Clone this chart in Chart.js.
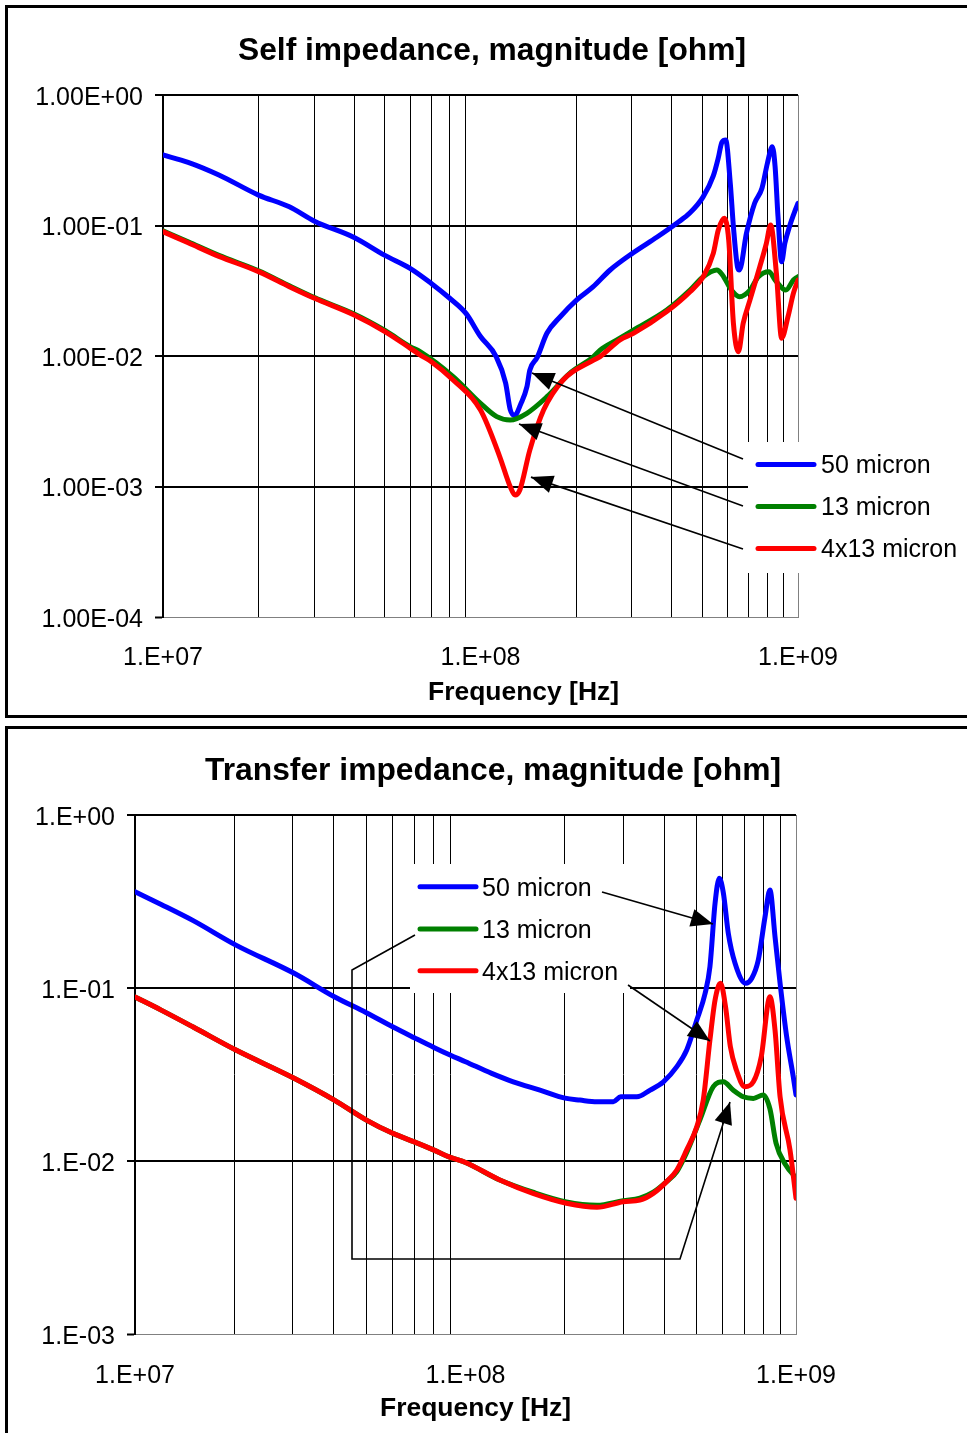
<!DOCTYPE html>
<html><head><meta charset="utf-8">
<script src="https://cdn.jsdelivr.net/npm/chart.js@4.4.1/dist/chart.umd.min.js"></script>
<style>
html,body{margin:0;padding:0;background:#fff;width:967px;height:1433px;overflow:hidden}
canvas{position:absolute;left:0}
#c1{top:0}
#c2{top:720px}
</style></head><body>
<canvas id="c1" width="967" height="720"></canvas>
<canvas id="c2" width="967" height="713"></canvas>
<script>
// ---------- DATA ----------
const seriesLabels = ['50 micron', '13 micron', '4x13 micron'];
const seriesColors = ['#0000ff', '#008000', '#ff0000'];

const xTickValues = [1e7,2e7,3e7,4e7,5e7,6e7,7e7,8e7,9e7,1e8,2e8,3e8,4e8,5e8,6e8,7e8,8e8,9e8,1e9];
const xDecades = [1e7, 1e8, 1e9];
const xDecadeLabels = ['1.E+07', '1.E+08', '1.E+09'];

const selfYTicks = [1, 0.1, 0.01, 0.001, 0.0001];
const selfYLabels = ['1.00E+00', '1.00E-01', '1.00E-02', '1.00E-03', '1.00E-04'];
const transYTicks = [1, 0.1, 0.01, 0.001];
const transYLabels = ['1.E+00', '1.E-01', '1.E-02', '1.E-03'];

// Self impedance (frequency in MHz, magnitude in ohm)
const selfFreq50 = [10,12,15,20,25,30,40,50,60,70,80,90,100,112,120,124,128,134,140,143,151,162,178,201,226,256,302,360,416,457,502,541,561,576,592,612,626,645,654,688,730,770,801,830,847,865,888,909,940,981,1000];
const self50 = [0.347,0.305,0.244,0.171,0.139,0.108,0.081,0.059,0.047,0.036,0.0277,0.0212,0.0141,0.0099,0.0062,0.0039,0.0035,0.0043,0.0058,0.0078,0.0098,0.0150,0.0199,0.0269,0.0338,0.0456,0.0616,0.0816,0.1045,0.125,0.165,0.24,0.33,0.435,0.452,0.21,0.098,0.048,0.0456,0.087,0.148,0.193,0.30,0.402,0.282,0.117,0.0528,0.073,0.098,0.1315,0.148];

const selfFreq13 = [10,12,15,20,25,30,40,50,60,64.5,82,100,112.5,124,140,162,191,227,238,269,303,386,457,503,555,578,617,654,706,750,810,847,916,967,1000];
const self13 = [0.091,0.075,0.059,0.045,0.0345,0.028,0.021,0.0157,0.0118,0.0108,0.00695,0.00434,0.00343,0.00323,0.00364,0.00488,0.00736,0.00988,0.0111,0.0133,0.0158,0.0225,0.032,0.0405,0.0456,0.0418,0.032,0.0285,0.032,0.0405,0.0443,0.0382,0.032,0.0382,0.0405];

const selfFreq4x13 = [10,12,15,20,25,30,40,50,60,64.5,70,82,100,115,124,128.5,133,143,158,182,227,238,275,303,386,457,503,541,561,586,605,626,649,672,706,758,795,820,855,888,930,967,1000];
const self4x13 = [0.0897,0.0738,0.058,0.0443,0.034,0.0277,0.0206,0.0154,0.0115,0.0102,0.00905,0.00655,0.00385,0.00169,0.0010,0.00086,0.00094,0.0019,0.00385,0.00655,0.0093,0.0099,0.0133,0.0149,0.0219,0.0311,0.0405,0.0612,0.0924,0.1136,0.0774,0.0178,0.0108,0.0178,0.0269,0.0483,0.073,0.101,0.043,0.0137,0.020,0.0302,0.0382];

// Transfer impedance (frequency in MHz, magnitude in ohm)
const transFreq50 = [10,12,15,20.2,30.3,40.1,50.1,60.2,70,80.5,89.8,100,120,139.5,168,200,222,250,280,295,330,362,397,436,467,501,531,549,569,586,603,624,654,704,735,769,806,834,864,895,937,981,1000];
const trans50 = [0.36,0.304,0.245,0.177,0.1216,0.089,0.072,0.0597,0.0516,0.0452,0.041,0.0375,0.0321,0.0287,0.0257,0.0231,0.0225,0.022,0.022,0.0235,0.0235,0.0257,0.0287,0.0351,0.0438,0.0653,0.0932,0.1328,0.309,0.431,0.353,0.207,0.139,0.1065,0.1138,0.145,0.258,0.3685,0.198,0.1065,0.0523,0.0307,0.0241];

const transFreq13 = [10,12,15,20.2,30.3,40.1,50,60,70,80,90,100,127,160,202,250,300,337,370,406,436,467,512,562,603,645,692,743,796,834,870,930,1000];
const trans13 = [0.0887,0.0745,0.0595,0.0438,0.0301,0.0225,0.0173,0.0145,0.0129,0.0116,0.0105,0.0098,0.00777,0.0066,0.0058,0.00555,0.0059,0.0061,0.0066,0.0076,0.0087,0.0112,0.0173,0.0269,0.0287,0.0257,0.0235,0.023,0.0241,0.020,0.0127,0.0095,0.0080];

const transFreq4x13 = [10,12,15,20.2,30.3,40.1,50,60,70,80,90,100,127,160,202,250,300,337,370,406,436,467,501,524,549,569,591,612,633,660,700,743,785,834,864,895,959,1000];
const trans4x13 = [0.0887,0.0745,0.0595,0.0438,0.0301,0.0225,0.0173,0.0145,0.0129,0.0116,0.0105,0.0098,0.00777,0.0065,0.0057,0.0054,0.00582,0.00595,0.0065,0.0076,0.00887,0.0116,0.0158,0.0225,0.05,0.0853,0.1065,0.078,0.0458,0.0336,0.0269,0.0287,0.0401,0.089,0.0572,0.0235,0.0116,0.00609];

// ---------- helpers ----------
const FONT = '"Liberation Sans", Arial, sans-serif';
function pts(freqMHz, vals) { return freqMHz.map((f, i) => ({x: f * 1e6, y: vals[i]})); }
function ds(i, freq, vals, order) {
  return {label: seriesLabels[i], data: pts(freq, vals), borderColor: seriesColors[i],
    backgroundColor: seriesColors[i], borderWidth: 5, pointRadius: 0,
    cubicInterpolationMode: 'monotone',
    borderCapStyle: 'round', borderJoinStyle: 'round', fill: false, order: order};
}
function fitText(ctx, text, cx, cy, font, targetW) {
  ctx.save();
  ctx.font = font;
  const w = ctx.measureText(text).width;
  ctx.translate(cx, cy);
  ctx.scale(targetW / w, 1);
  ctx.textAlign = 'center';
  ctx.textBaseline = 'middle';
  ctx.fillStyle = '#000';
  ctx.fillText(text, 0, 0);
  ctx.restore();
}
function arrowPath(ctx, p) {
  ctx.save();
  ctx.strokeStyle = '#000';
  ctx.fillStyle = '#000';
  ctx.lineWidth = 1.6;
  ctx.beginPath();
  ctx.moveTo(p[0][0], p[0][1]);
  for (let i = 1; i < p.length; i++) ctx.lineTo(p[i][0], p[i][1]);
  ctx.stroke();
  const [tx, ty] = p[p.length - 1], [sx, sy] = p[p.length - 2];
  const a = Math.atan2(ty - sy, tx - sx), L = 22, H = 9;
  ctx.beginPath();
  ctx.moveTo(tx, ty);
  ctx.lineTo(tx - L * Math.cos(a) + H * Math.sin(a), ty - L * Math.sin(a) - H * Math.cos(a));
  ctx.lineTo(tx - L * Math.cos(a) - H * Math.sin(a), ty - L * Math.sin(a) + H * Math.cos(a));
  ctx.closePath();
  ctx.fill();
  ctx.restore();
}

function makeChart(canvasId, datasets, yTicks, yLabels, g, deco) {
  const cv = document.getElementById(canvasId);
  const W = cv.width, Hh = cv.height;
  const yMin = yTicks[yTicks.length - 1];
  const decoPlugin = {
    id: 'deco' + canvasId,
    afterDatasetsDraw(chart) { deco.over(chart, chart.ctx); },
    afterDraw(chart) { deco.texts(chart, chart.ctx); }
  };
  return new Chart(cv, {
    type: 'line',
    data: {datasets: datasets},
    plugins: [decoPlugin],
    options: {
      responsive: false, animation: false, devicePixelRatio: 1,
      layout: {padding: {left: 0, top: g.top, right: W - g.right, bottom: 0}},
      plugins: {legend: {display: false}, title: {display: false}, tooltip: {enabled: false}},
      scales: {
        x: {
          type: 'logarithmic', min: 1e7, max: 1e9,
          afterFit: s => { s.height = Hh - g.bottom; },
          afterBuildTicks: s => { s.ticks = xTickValues.map(v => ({value: v})); },
          ticks: {autoSkip: false, maxRotation: 0, minRotation: 0, padding: g.xPad, color: '#000',
            font: {family: FONT, size: 25},
            callback: v => { const i = xDecades.indexOf(v); return i >= 0 ? xDecadeLabels[i] : ''; }},
          grid: {drawTicks: false,
            color: c => { const v = c.tick ? c.tick.value : 0; if (v === 1e9) return '#808080'; return xDecades.indexOf(v) >= 0 ? 'rgba(0,0,0,0)' : '#000'; },
            lineWidth: 1},
          border: {display: true, color: '#808080', width: 1}
        },
        y: {
          type: 'logarithmic', min: yMin, max: 1,
          afterFit: s => { s.width = g.left; },
          afterBuildTicks: s => { s.ticks = yTicks.map(v => ({value: v})); },
          ticks: {autoSkip: false, padding: 12, labelOffset: 3, color: '#000', font: {family: FONT, size: 25},
            callback: v => { const i = yTicks.indexOf(v); return i >= 0 ? yLabels[i] : ''; }},
          grid: {
            color: c => (c.tick && c.tick.value === yMin) ? '#808080' : '#000',
            lineWidth: c => (c.tick && c.tick.value === yMin) ? 1 : 2,
            tickLength: 8, tickColor: '#000', tickWidth: 2},
          border: {display: true, color: '#000', width: 2}
        }
      }
    }
  });
}

// ---------- Chart 1: self impedance ----------
makeChart('c1',
  [ds(0, selfFreq50, self50, 3), ds(1, selfFreq13, self13, 2), ds(2, selfFreq4x13, self4x13, 1)],
  selfYTicks, selfYLabels,
  {left: 163, right: 798, top: 95, bottom: 617, xPad: 26},
  {
    over(chart, ctx) {
      const xs = chart.scales.x, ys = chart.scales.y;
      ctx.save();
      ctx.fillStyle = '#fff';
      ctx.fillRect(748, 442, 230, 131);
      const rows = [464.5, 506.5, 548.5];
      chart.data.datasets.forEach((d, i) => {
        ctx.strokeStyle = d.borderColor; ctx.lineWidth = 5; ctx.lineCap = 'round';
        ctx.beginPath(); ctx.moveTo(758, rows[i]); ctx.lineTo(814, rows[i]); ctx.stroke();
        ctx.fillStyle = '#000'; ctx.font = '25px ' + FONT; ctx.textAlign = 'left'; ctx.textBaseline = 'middle';
        ctx.fillText(d.label, 821, rows[i] + 2);
      });
      ctx.restore();
      const tips = [[145.3e6, 0.00741], [132.2e6, 0.00301], [144.2e6, 0.00118]];
      const starts = [[743, 459], [743, 506], [743, 549]];
      tips.forEach((t, i) => arrowPath(ctx, [starts[i], [xs.getPixelForValue(t[0]), ys.getPixelForValue(t[1])]]));
    },
    texts(chart, ctx) {
      ctx.save();
      ctx.strokeStyle = '#000'; ctx.lineWidth = 3;
      ctx.strokeRect(6.5, 6.5, 1100, 710);
      ctx.restore();
      fitText(ctx, 'Self impedance, magnitude [ohm]', 492, 51, 'bold 31px ' + FONT, 508);
      fitText(ctx, 'Frequency [Hz]', 523.5, 693, 'bold 25px ' + FONT, 191);
    }
  });

// ---------- Chart 2: transfer impedance ----------
makeChart('c2',
  [ds(0, transFreq50, trans50, 3), ds(1, transFreq13, trans13, 2), ds(2, transFreq4x13, trans4x13, 1)],
  transYTicks, transYLabels,
  {left: 135, right: 796, top: 95, bottom: 614, xPad: 27},
  {
    over(chart, ctx) {
      const xs = chart.scales.x, ys = chart.scales.y;
      ctx.save();
      ctx.fillStyle = '#fff';
      ctx.fillRect(410, 144, 220, 129);
      const rows = [166.7, 209, 250.7];
      chart.data.datasets.forEach((d, i) => {
        ctx.strokeStyle = d.borderColor; ctx.lineWidth = 5; ctx.lineCap = 'round';
        ctx.beginPath(); ctx.moveTo(420, rows[i]); ctx.lineTo(476, rows[i]); ctx.stroke();
        ctx.fillStyle = '#000'; ctx.font = '25px ' + FONT; ctx.textAlign = 'left'; ctx.textBaseline = 'middle';
        ctx.fillText(d.label, 482, rows[i] + 2);
      });
      ctx.restore();
      const px = (f, v) => [xs.getPixelForValue(f), ys.getPixelForValue(v)];
      arrowPath(ctx, [[602, 172], px(560.9e6, 0.2344)]);
      arrowPath(ctx, [[628, 265], px(549.3e6, 0.0494)]);
      arrowPath(ctx, [[415, 215], [352, 250], [352, 539], [680, 539], px(631.4e6, 0.02193)]);
    },
    texts(chart, ctx) {
      ctx.save();
      ctx.strokeStyle = '#000'; ctx.lineWidth = 3;
      ctx.strokeRect(6.5, 7.5, 1100, 800);
      ctx.restore();
      fitText(ctx, 'Transfer impedance, magnitude [ohm]', 493, 51, 'bold 31px ' + FONT, 576);
      fitText(ctx, 'Frequency [Hz]', 475.5, 689, 'bold 25px ' + FONT, 191);
    }
  });
</script>
</body></html>
